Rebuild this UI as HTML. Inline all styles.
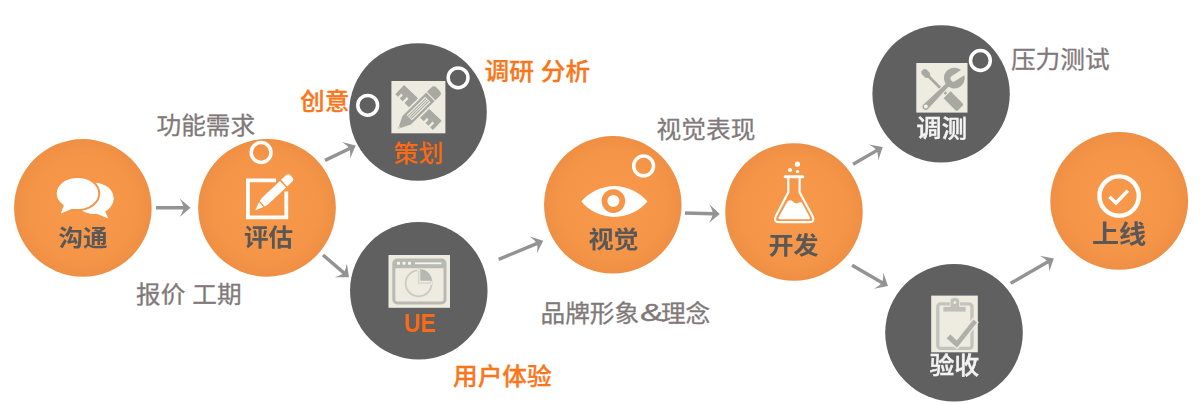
<!DOCTYPE html>
<html lang="zh-CN">
<head>
<meta charset="utf-8">
<title>项目流程</title>
<style>
html,body{margin:0;padding:0;background:#fff;}
body{width:1200px;height:404px;overflow:hidden;position:relative;font-family:"Liberation Sans","Noto Sans CJK SC",sans-serif;}
svg{position:absolute;left:0;top:0;display:block;}
text{font-family:"Liberation Sans","Noto Sans CJK SC",sans-serif;}
.lbl{font-size:24.5px;fill:#817979;stroke:#817979;stroke-width:0.3px;}
.olbl{font-size:24.5px;fill:#fa761a;font-weight:500;stroke:#fa761a;stroke-width:0.3px;}
.cap{font-size:24px;font-weight:700;fill:#5a5857;text-anchor:middle;}
.capo{font-size:24px;font-weight:500;fill:#fb6a14;text-anchor:middle;}
.capu{font-size:24px;font-weight:700;fill:#fb6a14;text-anchor:middle;}
.capw{font-size:24px;font-weight:500;fill:#f4f4f4;stroke:#f4f4f4;stroke-width:0.4px;text-anchor:middle;}
.ring{fill:none;stroke:#fff;stroke-width:3.5;}
.arr{fill:#939393;}
</style>
</head>
<body>
<svg width="1200" height="404" viewBox="0 0 1200 404">
<defs>
<radialGradient id="go" cx="50%" cy="50%" r="50%">
<stop offset="0" stop-color="#f7984b"/><stop offset="0.75" stop-color="#f59547"/><stop offset="1" stop-color="#ee8f44"/>
</radialGradient>
<filter id="soft" x="-10%" y="-10%" width="120%" height="120%"><feGaussianBlur stdDeviation="0.45"/></filter>
</defs>

<g>
<circle cx="82.85" cy="207.90" r="68.80" fill="url(#go)"/>
<circle cx="267.00" cy="207.80" r="68.85" fill="url(#go)"/>
<circle cx="418.00" cy="112.00" r="68.80" fill="#606060"/>
<circle cx="418.80" cy="290.75" r="68.75" fill="#606060"/>
<circle cx="612.80" cy="204.85" r="68.75" fill="url(#go)"/>
<circle cx="794.00" cy="211.95" r="68.75" fill="url(#go)"/>
<circle cx="941.10" cy="93.85" r="68.70" fill="#606060"/>
<circle cx="954.00" cy="332.70" r="68.80" fill="#606060"/>
<circle cx="1119.20" cy="200.90" r="68.90" fill="url(#go)"/>
</g>
<g class="arr">
<path transform="translate(156.0,207.8) rotate(0.00)" d="M0,-1.70 L27.30,-1.70 Q26.40,-5.12 23.70,-9.30 L34.50,0 L23.70,9.30 Q26.40,5.12 27.30,1.70 L0,1.70 Z"/>
<path transform="translate(325.0,160.4) rotate(-25.74)" d="M0,-1.70 L26.88,-1.70 Q25.98,-5.12 23.28,-9.30 L34.08,0 L23.28,9.30 Q25.98,5.12 26.88,1.70 L0,1.70 Z"/>
<path transform="translate(323.0,255.0) rotate(40.62)" d="M0,-1.70 L27.05,-1.70 Q26.15,-5.12 23.45,-9.30 L34.25,0 L23.45,9.30 Q26.15,5.12 27.05,1.70 L0,1.70 Z"/>
<path transform="translate(498.7,259.4) rotate(-22.68)" d="M0,-1.70 L41.03,-1.70 Q40.13,-5.12 37.43,-9.30 L48.23,0 L37.43,9.30 Q40.13,5.12 41.03,1.70 L0,1.70 Z"/>
<path transform="translate(684.9,213.0) rotate(1.48)" d="M0,-1.70 L27.71,-1.70 Q26.81,-5.12 24.11,-9.30 L34.91,0 L24.11,9.30 Q26.81,5.12 27.71,1.70 L0,1.70 Z"/>
<path transform="translate(853.1,164.3) rotate(-30.22)" d="M0,-1.70 L27.17,-1.70 Q26.27,-5.12 23.57,-9.30 L34.37,0 L23.57,9.30 Q26.27,5.12 27.17,1.70 L0,1.70 Z"/>
<path transform="translate(852.1,265.3) rotate(29.97)" d="M0,-1.70 L34.24,-1.70 Q33.34,-5.12 30.64,-9.30 L41.44,0 L30.64,9.30 Q33.34,5.12 34.24,1.70 L0,1.70 Z"/>
<path transform="translate(1010.7,283.3) rotate(-29.92)" d="M0,-1.70 L42.53,-1.70 Q41.63,-5.12 38.93,-9.30 L49.73,0 L38.93,9.30 Q41.63,5.12 42.53,1.70 L0,1.70 Z"/>
</g>
<g class="ring">
<circle cx="261.1" cy="152.5" r="9.9"/>
<circle cx="367.7" cy="105.3" r="9.9"/>
<circle cx="458.1" cy="77.8" r="9.9"/>
<circle cx="643.6" cy="165.9" r="9.9"/>
<circle cx="980.4" cy="60.5" r="9.9"/>
</g>
<text class="lbl" transform="translate(156.5,133.7) scale(1.008,0.955)">功能需求</text>
<text class="lbl" transform="translate(136.0,303.0) scale(1.008,0.955)">报价 工期</text>
<text class="olbl" transform="translate(300.0,109.8) scale(1.008,0.955)">创意</text>
<text class="olbl" transform="translate(484.5,79.8) scale(1.008,0.955)">调研 分析</text>
<text class="olbl" transform="translate(453.0,384.8) scale(1.008,0.955)">用户体验</text>
<text class="lbl" transform="translate(656.6,138.0) scale(1.008,0.955)">视觉表现</text>
<text class="lbl" transform="translate(540.5,322.1) scale(1.008,0.955)">品牌形象</text>
<text class="lbl" transform="translate(660.9,322.1) scale(1.008,0.955)">理念</text>
<text class="lbl" transform="translate(1010.9,68.0) scale(1.008,0.955)">压力测试</text>
<text class="lbl" transform="translate(639.9,321.3) scale(1.450,0.950)">&amp;</text>
<g filter="url(#soft)">
<text class="cap" transform="translate(83.1,246.3) scale(1.026,0.929)" style="font-size:24px">沟通</text>
<text class="cap" transform="translate(268.5,246.0) scale(1.023,0.998)" style="font-size:24px">评估</text>
<text class="capo" transform="translate(418.8,162.3) scale(1.046,0.985)" style="font-size:24px">策划</text>
<text class="capu" transform="translate(420.1,331.6) scale(0.900,1.049)" style="font-size:25.4px">UE</text>
<text class="cap" transform="translate(613.5,247.8) scale(1.047,0.978)" style="font-size:24px">视觉</text>
<text class="cap" transform="translate(793.6,254.0) scale(1.045,1.000)" style="font-size:24px">开发</text>
<text class="capw" transform="translate(941.7,136.6) scale(1.056,1.000)" style="font-size:24px">调测</text>
<text class="capw" transform="translate(954.3,373.9) scale(1.038,1.000)" style="font-size:24px">验收</text>
<text class="cap" transform="translate(1119.1,243.4) scale(0.987,0.923)" style="font-size:27.5px">上线</text>
</g>
<!-- chat bubbles -->
<g id="ic-chat">
<ellipse cx="94.300" cy="198.400" rx="19.400" ry="15.600" fill="#fff"/>
<path d="M104.800,210.500 L108.300,218.600 L96.500,213.700 Z" fill="#fff"/>
<ellipse cx="77.500" cy="193.500" rx="22.800" ry="17.600" fill="#f59547"/>
<ellipse cx="77.500" cy="193.500" rx="20.800" ry="15.600" fill="#fff"/>
<path d="M64.300,204 L60.800,213.600 L73.500,208.300 Z" fill="#fff"/>
</g>
<!-- edit icon -->
<g id="ic-edit">
<path d="M276,180.300 H247.900 V217.400 H286.300 V191.500" fill="none" stroke="#fff" stroke-width="3.800"/>
<g transform="translate(255.300,210.300) rotate(-43.300)" fill="#fff">
<path d="M0,0 L8.200,-3.300 V3.300 Z"/>
<path d="M9.600,-3.700 L13.500,-4.500 H38 V4.500 H13.500 L9.600,3.700 Z"/>
<path d="M39.600,-4.500 H46.300 Q49.600,-4.500 49.600,-1.200 V1.200 Q49.600,4.500 46.300,4.500 H39.600 Z"/>
</g>
</g>
<!-- plan icon -->
<g id="ic-plan">
<rect x="391.400" y="81" width="54" height="52.300" fill="#eeebe0"/>
<g transform="translate(418.500,107.500) rotate(43.600)" fill="#a9a9a3">
<path d="M-26,-6.300 H26 V6.300 H-26 Z M-22.200,6.300 V1.800 H-19.800 V6.300 Z M-15.700,6.300 V0.500 H-13.300 V6.300 Z M13.300,6.300 V1.800 H15.700 V6.300 Z M19.800,6.300 V0.500 H22.200 V6.300 Z" fill-rule="evenodd"/>
</g>
<g transform="translate(397.200,129.600) rotate(-44.600)">
<path d="M-0.500,0 L13,-6.800 H53.500 Q58.300,-6.800 58.300,-2 V2 Q58.300,6.800 53.500,6.800 H13 Z" fill="#a9a9a3" stroke="#eeebe0" stroke-width="1.600" stroke-linejoin="round"/>
<path d="M3.300,-3 V3" stroke="#eeebe0" stroke-width="0.900"/>
<rect x="17" y="-3.700" width="26" height="7.400" fill="#eeebe0"/>
<path d="M17.500,-1.900 H42.500 M17.500,0 H42.500 M17.500,1.900 H42.500" stroke="#a9a9a3" stroke-width="1"/>
<path d="M47.200,-6.800 V6.800" stroke="#eeebe0" stroke-width="1.100"/>
</g>
</g>
<!-- UE icon -->
<g id="ic-ue">
<rect x="388.500" y="255" width="61.500" height="52.800" fill="#eeebe0"/>
<rect x="393.800" y="260" width="51.200" height="43" rx="3.500" fill="none" stroke="#b9b9b4" stroke-width="3"/>
<rect x="393.800" y="260" width="51.200" height="8.200" fill="#b9b9b4"/>
<rect x="397" y="261.800" width="3" height="3" rx="0.800" fill="#f6f4ec"/><rect x="402.500" y="261.800" width="3" height="3" rx="0.800" fill="#f6f4ec"/><rect x="408" y="261.800" width="3" height="3" rx="0.800" fill="#f6f4ec"/>
<path d="M415,263.300 H441.500" stroke="#f6f4ec" stroke-width="1.800"/>
<circle cx="418.600" cy="283.300" r="13" fill="none" stroke="#cbcbc6" stroke-width="1.800"/>
<path d="M418.600,270 V283.300 H432" fill="none" stroke="#eeebe0" stroke-width="3"/>
<path d="M418.800,271 V283.100 H431" fill="none" stroke="#d2d2cd" stroke-width="1.200"/>
<path d="M420.300,280.800 V269.300 A11.500,11.500 0 0 1 431.800,280.800 Z" fill="#b7b7b3"/>
</g>
<!-- eye icon -->
<g id="ic-eye">
<path d="M581.300,201.500 A43.200,43.200 0 0 1 647.400,201.500 A43.200,43.200 0 0 1 581.300,201.500 Z" fill="#fff"/>
<circle cx="613.400" cy="201.100" r="8.900" fill="none" stroke="#f59547" stroke-width="5.800"/>
</g>
<!-- flask icon -->
<g id="ic-flask">
<circle cx="797.400" cy="164.200" r="2.600" fill="#fff"/><circle cx="790" cy="170" r="2" fill="#fff"/><circle cx="797.500" cy="171.600" r="1.700" fill="#fff"/>
<path d="M788.300,177 V192.300 L775.700,216.600 Q773.300,222.100 779,222.100 H809.400 Q815.100,222.100 812.700,216.600 L799.600,192.300 V177" fill="none" stroke="#fff" stroke-width="2.200" stroke-linejoin="round"/>
<path d="M785.200,176.800 H802.700" fill="none" stroke="#fff" stroke-width="3" stroke-linecap="round"/>
<path d="M787.600,201.200 Q789.500,199.700 791.500,200.600 Q794.500,203.700 797.300,203.500 Q799.800,201.600 801.800,202.500 L809.700,216.900 Q810.700,219.300 808.200,219.300 H780.300 Q777.800,219.300 778.800,216.900 Z" fill="#fff"/>
</g>
<!-- tools icon -->
<g id="ic-tools">
<rect x="916.300" y="63" width="51.200" height="49.600" fill="#eeebe0"/>
<g transform="translate(942.350,90.050) rotate(45)" fill="#a9a9a3">
<path d="M-28,-1.800 L-26,-3.300 H-20.800 L-18.500,-1.400 H7 V1.400 H-18.500 L-20.800,3.300 H-26 L-28,1.800 Z"/>
<path d="M6,-5.600 H23.500 Q26,-5.600 26,-3.100 V3.100 Q26,5.600 23.500,5.600 H6 Z" stroke="#eeebe0" stroke-width="1.200"/>
</g>
<g transform="translate(942.350,90.050) rotate(-45)" fill="#a9a9a3">
<path d="M-23.500,-3.700 L9,-2.400 V2.400 L-23.500,3.700 A3.700,3.700 0 0 1 -23.500,-3.700 Z" stroke="#eeebe0" stroke-width="1"/>
<circle cx="-23.300" cy="0" r="1.900" fill="#f6f4ec"/>
<g transform="translate(17,0) rotate(12)">
<path d="M9.900,-3 A10.400,10.400 0 1 0 9.900,3 L-1,3 A3,3 0 0 1 -1,-3 Z"/>
</g>
</g>
</g>
<!-- clipboard icon -->
<g id="ic-clip">
<rect x="931.200" y="295.600" width="46.600" height="56.700" fill="#eeebe0"/>
<rect x="937.800" y="303.800" width="34.200" height="44.600" rx="3" fill="none" stroke="#c3c3be" stroke-width="3.300"/>
<path d="M943,312 V306.500 H950.200 V301.200 Q950.200,297.600 954.800,297.600 Q959.500,297.600 959.500,301.200 V306.500 H966 V312 Z" fill="#c0c0bb" stroke="#eeebe0" stroke-width="0.800"/>
<circle cx="954.800" cy="302.600" r="1.500" fill="#eeebe0"/>
<path d="M945.500,338.300 L950.400,333.500 L956.700,339.600 L973.300,318.500 L978,322.400 L957.200,348.800 Z" fill="#b0b0ab" stroke="#eeebe0" stroke-width="1.400" stroke-linejoin="round"/>
</g>
<!-- check circle -->
<g id="ic-check">
<circle cx="1119.100" cy="196.100" r="19.700" fill="none" stroke="#fff" stroke-width="4.400"/>
<path d="M1109.500,196.800 L1116,203 L1127.800,190.600" fill="none" stroke="#fff" stroke-width="3.500"/>
</g>

</svg>
</body>
</html>
